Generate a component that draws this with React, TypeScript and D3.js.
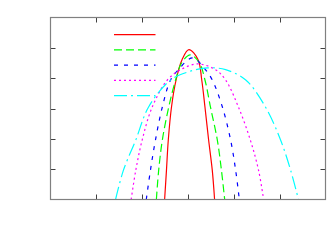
import * as d3 from 'd3';

type Pt = [number, number];

// points (x, y in axis units, 6 ticks each way)
const redCurve: Pt[] = [[2.49, 0], [2.53, 0.96], [2.57, 1.96], [2.64, 3.05], [2.74, 3.94], [2.87, 4.61], [3.02, 4.94], [3.22, 4.61], [3.30, 3.94], [3.37, 3.05], [3.45, 1.96], [3.53, 0.96], [3.58, 0]];
const greenCurve: Pt[] = [[2.31, 0], [2.36, 0.96], [2.44, 1.96], [2.58, 3.05], [2.73, 3.94], [2.86, 4.5], [3.05, 4.77], [3.25, 4.5], [3.37, 3.94], [3.49, 3.05], [3.64, 1.96], [3.73, 0.96], [3.80, 0]];
const blueCurve: Pt[] = [[2.09, 0], [2.18, 0.96], [2.29, 1.96], [2.44, 3.05], [2.62, 3.94], [2.79, 4.28], [3.10, 4.67], [3.38, 4.28], [3.53, 3.94], [3.75, 3.05], [3.93, 1.96], [4.04, 0.96], [4.12, 0]];
const magentaCurve: Pt[] = [[1.76, 0], [1.86, 0.96], [2.00, 1.96], [2.22, 3.05], [2.55, 3.94], [2.84, 4.28], [3.21, 4.47], [3.60, 4.28], [3.82, 3.94], [4.10, 3.05], [4.36, 1.96], [4.54, 0.96], [4.65, 0]];
const cyanCurve: Pt[] = [[1.42, 0], [1.59, 0.96], [1.86, 1.96], [2.14, 3.05], [2.62, 3.94], [3.01, 4.21], [3.43, 4.34], [3.82, 4.28], [4.26, 3.94], [4.69, 3.05], [5.02, 1.96], [5.24, 0.96], [5.41, 0]];

const xTicks = [1, 2, 3, 4, 5];
const yTicks = [1, 2, 3, 4, 5];

const series = [
  { data: redCurve, color: '#ff0000', dash: 'none' },
  { data: greenCurve, color: '#00ff00', dash: '8 4' },
  { data: blueCurve, color: '#0000ff', dash: '4 6' },
  { data: magentaCurve, color: '#ff00ff', dash: '2 3' },
  { data: cyanCurve, color: '#00ffff', dash: '13 4 2 4' },
];

const W = 332;
const H = 249;
const left = 50.5, right = 325.5, top = 17.5, bottom = 199.5;

export default function App() {
  const x = d3.scaleLinear().domain([0, 6]).range([left, right]);
  const y = d3.scaleLinear().domain([0, 6]).range([bottom, top]);
  const line = d3.line<Pt>()
    .x(d => x(d[0]))
    .y(d => y(d[1]))
    .curve(d3.curveCatmullRom.alpha(0.5));

  const tickLen = 5;
  const tickColor = '#404040';

  return (
    <svg width={W} height={H} style={{ position: 'absolute', left: 0, top: 0, background: '#fff' }}>
      <defs>
        <clipPath id="plot">
          <rect x={left} y={top} width={right - left} height={bottom - top} />
        </clipPath>
      </defs>

      {/* curves */}
      <g clipPath="url(#plot)">
        {series.map((s, i) => (
          <path key={i} d={line(s.data) || ''} fill="none" stroke={s.color}
            strokeWidth={1.2} strokeDasharray={s.dash} />
        ))}
      </g>

      {/* legend */}
      {series.map((s, i) => (
        <line key={i} x1={114} x2={155.5} y1={34.7 + i * 15.25} y2={34.7 + i * 15.25}
          stroke={s.color} strokeWidth={1.2} strokeDasharray={s.dash} />
      ))}

      {/* ticks, inward on all sides */}
      <g stroke={tickColor} strokeWidth={1}>
        {xTicks.map(t => (
          <g key={'x' + t}>
            <line x1={Math.round(x(t)) + 0.5} x2={Math.round(x(t)) + 0.5} y1={bottom} y2={bottom - tickLen} />
            <line x1={Math.round(x(t)) + 0.5} x2={Math.round(x(t)) + 0.5} y1={top} y2={top + tickLen} />
          </g>
        ))}
        {yTicks.map(t => (
          <g key={'y' + t}>
            <line x1={left} x2={left + tickLen} y1={Math.round(y(t)) + 0.5} y2={Math.round(y(t)) + 0.5} />
            <line x1={right} x2={right - tickLen} y1={Math.round(y(t)) + 0.5} y2={Math.round(y(t)) + 0.5} />
          </g>
        ))}
      </g>

      {/* frame */}
      <rect x={left} y={top} width={right - left} height={bottom - top}
        fill="none" stroke="#808080" strokeWidth={1.2} />
    </svg>
  );
}
